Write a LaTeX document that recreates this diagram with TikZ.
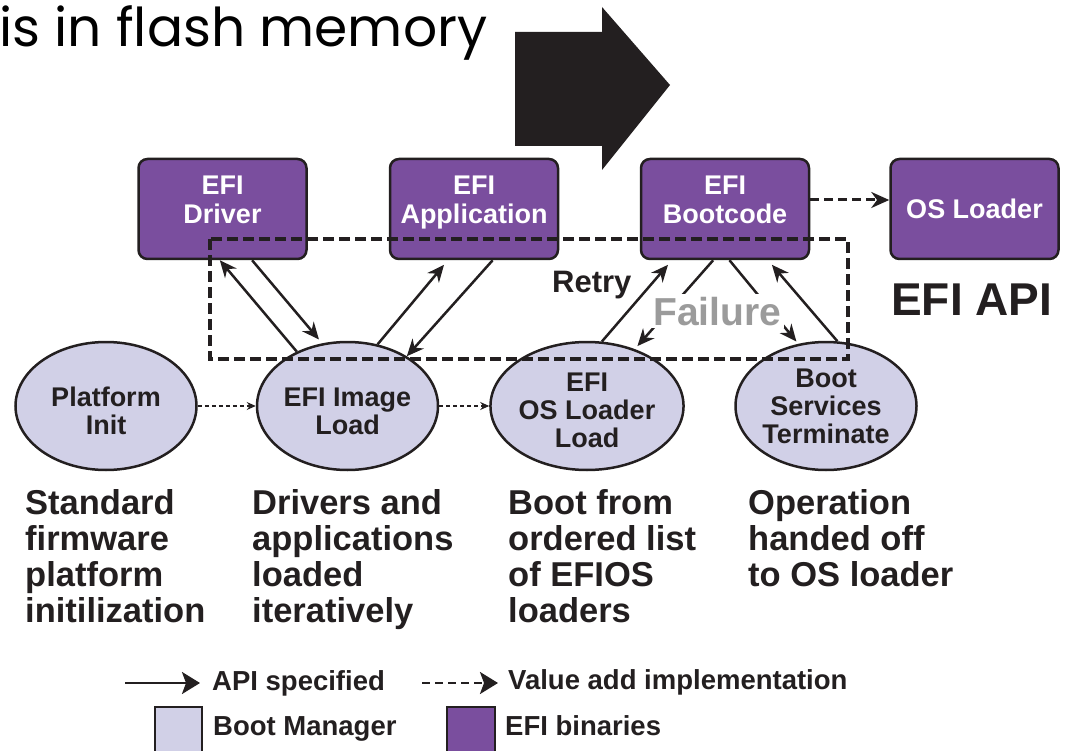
\documentclass[tikz,border=0pt]{standalone}
\usepackage{fontspec}
\setmainfont{Liberation Sans}
\newfontfamily\titlefont{Poppins}
\usetikzlibrary{arrows.meta,shapes.geometric,calc}
\definecolor{efipurple}{RGB}{122,78,158}
\definecolor{bootlav}{RGB}{209,208,231}
\definecolor{ink}{RGB}{35,31,32}
\definecolor{failgray}{RGB}{155,155,155}
\begin{document}
\begin{tikzpicture}[x=1pt,y=-1pt,
  efibox/.style={draw=ink, line width=2.5pt, fill=efipurple, rounded corners=9pt,
    minimum width=168pt, minimum height=100pt, inner sep=0pt, text=white,
    font=\bfseries\fontsize{27}{29}\selectfont, align=center},
  twoline/.style={text depth=19pt},
  bootell/.style={ellipse, draw=ink, line width=2.5pt, fill=bootlav,
    minimum width=181pt, minimum height=128pt, inner sep=0pt, text=ink,
    font=\bfseries\fontsize{27}{28}\selectfont, align=center},
  apiarrow/.style={draw=ink, line width=2.5pt, -{Stealth[length=17pt,width=15pt]}},
  thindash/.style={draw=ink, line width=1.2pt, dash pattern=on 4pt off 3pt,
    -{Stealth[length=9pt,width=8pt]}},
  valuedash/.style={draw=ink, line width=3pt, dash pattern=on 9pt off 5pt,
    -{Stealth[length=18pt,width=16pt]}},
  region/.style={draw=ink, line width=4pt, dash pattern=on 11pt off 5pt},
  desc/.style={anchor=base west, inner sep=0pt, align=left, text=ink,
    font=\bfseries\fontsize{34.5}{35.7}\selectfont},
  legtext/.style={anchor=base west, inner sep=0pt, text=ink,
    font=\bfseries\fontsize{27.5}{29}\selectfont},
]
\useasboundingbox (0,0) rectangle (1065,751);
\clip (0,0) rectangle (1065,751);

% title and big arrow
\node[anchor=base west, inner sep=0pt, text=black, font=\titlefont\fontsize{53.5}{58}\selectfont]
  (title) at (-1,47) {is in flash memory};
\fill[ink] (515,32) -- (602,32) -- (602,7) -- (670,85) -- (602,170) -- (602,146) -- (515,146) -- cycle;

% EFI binaries
\node[efibox, twoline] (drv)  at (222.5,209) {EFI\\Driver};
\node[efibox, twoline] (app)  at (474,209)   {EFI\\Application};
\node[efibox, twoline] (boot) at (725,209)   {EFI\\Bootcode};
\node[efibox] (osl) at (974.5,209) {OS Loader};

% Boot manager stages
\node[bootell, text height=57pt] (pinit) at (106,406)   {Platform\\Init};
\node[bootell, text height=57pt] (iload) at (347.5,406) {EFI Image\\Load};
\node[bootell, text height=84pt] (oload) at (587,406)   {EFI\\OS Loader\\Load};
\node[bootell] (bst)   at (826,406)   {Boot\\Services\\Terminate};

% connectors
\draw[apiarrow] (iload.133) -- (drv.267);
\draw[apiarrow, shorten >=5pt] (drv.300) -- (iload.112);
\draw[apiarrow, shorten >=6pt] (iload.64) -- (app.243);
\draw[apiarrow] (app.290) -- (iload.40);
\draw[apiarrow, shorten >=6pt] (oload.77) -- (boot.224);
\draw[apiarrow, shorten >=4pt] (boot.257) -- (oload.50);
\draw[apiarrow, shorten >=3pt] (boot.275) -- (bst.114);
\draw[apiarrow, shorten >=6pt] (bst.80) -- (boot.310);

\draw[thindash] (pinit.east) -- (iload.west);
\draw[thindash] (iload.east) -- (oload.west);
\draw[valuedash] ([yshift=9pt]boot.east) -- ([yshift=9pt]osl.west);

% labels
\node[anchor=base west, inner sep=0pt, text=ink, font=\bfseries\fontsize{31}{33}\selectfont]
  (retry) at (552,293) {Retry};
\node[anchor=base west, inner sep=3pt, fill=white, text=failgray, font=\bfseries\fontsize{39}{41}\selectfont]
  (fail) at (650,325) {Failure};
\node[anchor=base west, inner sep=0pt, text=ink, font=\bfseries\fontsize{46}{48}\selectfont]
  (efiapi) at (891,315) {EFI API};

% dashed region
\draw[region] (210,239) rectangle (848,359);

% descriptions (base anchor = baseline of last line)
\node[desc] (d1) at (25,622)  {Standard\\firmware\\platform\\initilization};
\node[desc] (d2) at (252,622) {Drivers and\\applications\\loaded\\iteratively};
\node[desc] (d3) at (508,622) {Boot from\\ordered list\\of EFIOS\\loaders};
\node[desc] (d4) at (748,586) {Operation\\handed off\\to OS loader};

% legend
\coordinate (la1) at (125,683);
\coordinate (la2) at (200,683);
\draw[draw=ink, line width=2.5pt, -{Stealth[length=18pt,width=22pt,inset=4pt]}] (la1) -- (la2);
\node[legtext] (lapi) at (212,690) {API specified};
\coordinate (lb1) at (422,683);
\coordinate (lb2) at (498,683);
\draw[draw=ink, line width=2.5pt, dash pattern=on 8pt off 5pt, -{Stealth[length=18pt,width=22pt,inset=4pt]}] (lb1) -- (lb2);
\node[legtext] (lval) at (508,689) {Value add implementation};
\draw[draw=ink, line width=2.5pt, fill=bootlav] (155,707) rectangle (202,770);
\node[legtext] (lbm) at (213,735) {Boot Manager};
\draw[draw=ink, line width=2.5pt, fill=efipurple] (447,707) rectangle (495,770);
\node[legtext] (lefi) at (505,735) {EFI binaries};
\end{tikzpicture}
\end{document}
